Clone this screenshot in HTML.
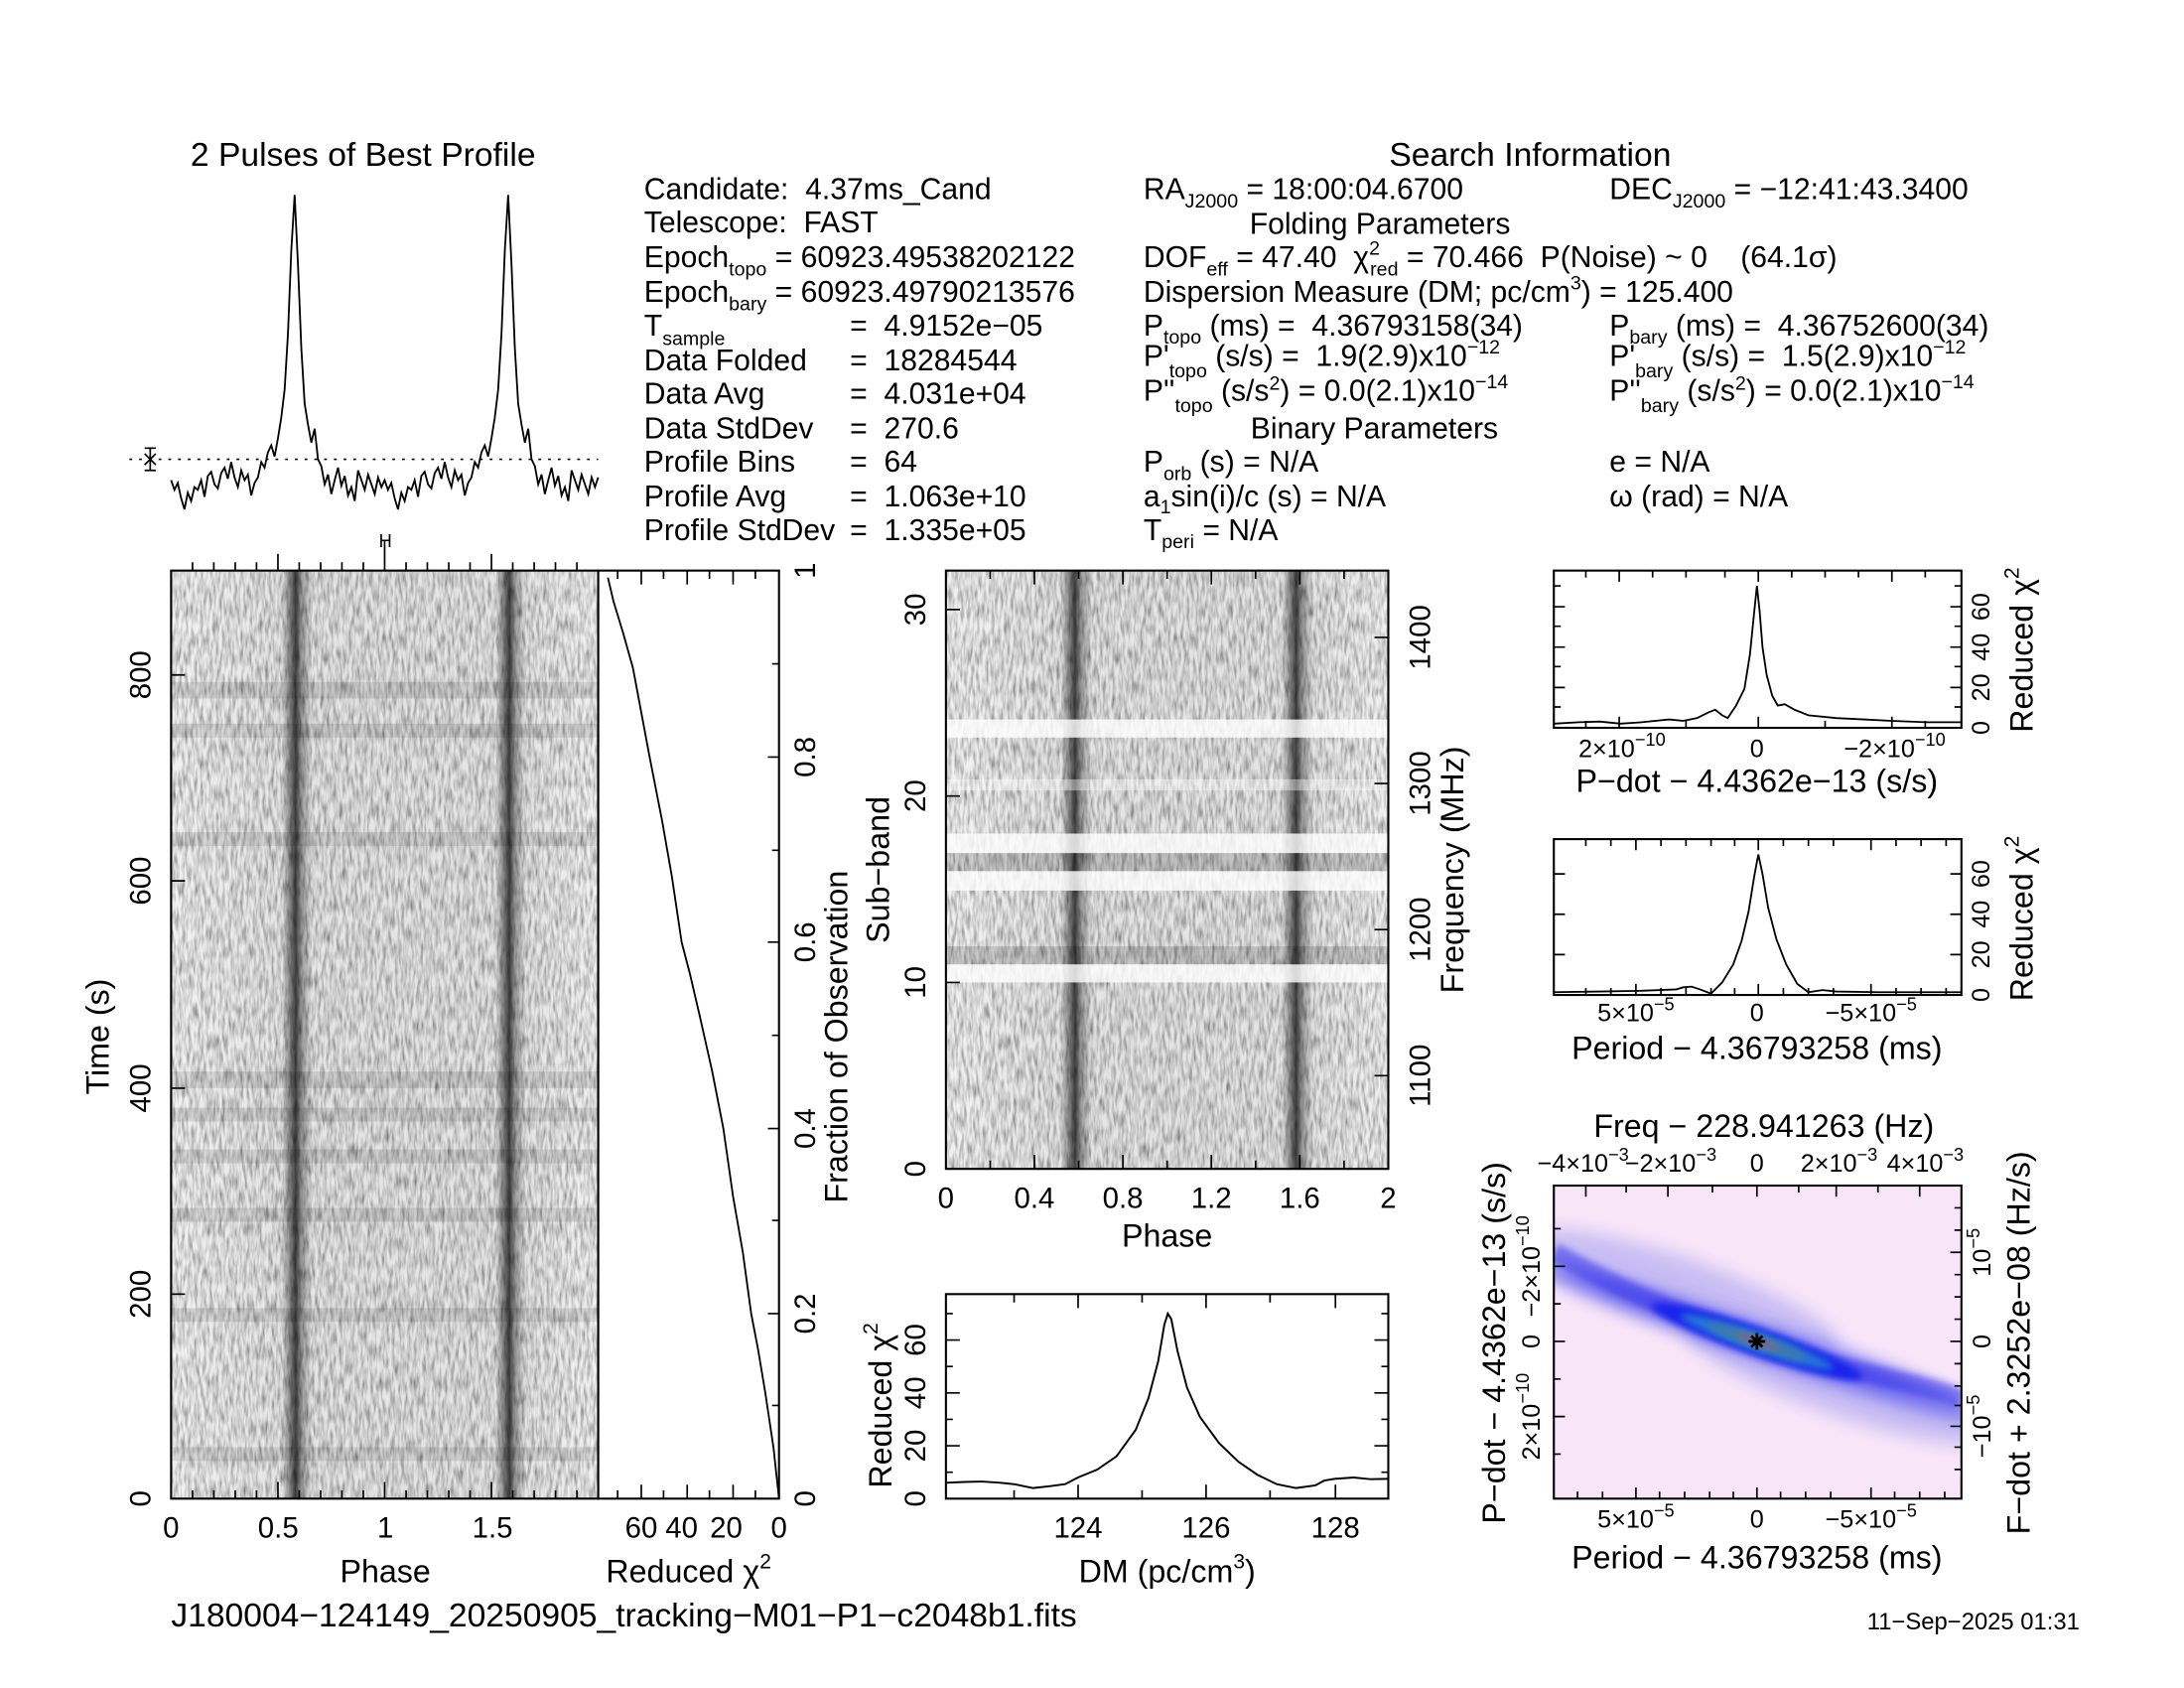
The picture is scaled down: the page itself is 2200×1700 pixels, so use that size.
<!DOCTYPE html>
<html><head><meta charset="utf-8"><style>
html,body{margin:0;padding:0;background:#fff;}
svg{display:block;}
text{font-family:"Liberation Sans",sans-serif;fill:#000;white-space:pre;}
</style></head><body>
<svg width="2200" height="1700" viewBox="0 0 1570 1213" xmlns="http://www.w3.org/2000/svg" xml:space="preserve">
<defs>
<filter id="nz" filterUnits="objectBoundingBox" x="0" y="0" width="1" height="1">
<feTurbulence type="fractalNoise" baseFrequency="0.45 0.09" numOctaves="2" seed="7"/>
<feColorMatrix type="matrix" values="1.3 0 0 0 0.12  1.3 0 0 0 0.12  1.3 0 0 0 0.12  0 0 0 0 1"/>
</filter>
<linearGradient id="bands" x1="0" x2="1" y1="0" y2="0">
<stop offset="0" stop-color="#000" stop-opacity="0.05"/>
<stop offset="0.26" stop-color="#000" stop-opacity="0.1"/>
<stop offset="0.28" stop-color="#000" stop-opacity="0.5"/>
<stop offset="0.292" stop-color="#000" stop-opacity="0.75"/>
<stop offset="0.305" stop-color="#000" stop-opacity="0.4"/>
<stop offset="0.33" stop-color="#000" stop-opacity="0.1"/>
<stop offset="0.76" stop-color="#000" stop-opacity="0.1"/>
<stop offset="0.78" stop-color="#000" stop-opacity="0.5"/>
<stop offset="0.792" stop-color="#000" stop-opacity="0.75"/>
<stop offset="0.805" stop-color="#000" stop-opacity="0.4"/>
<stop offset="0.83" stop-color="#000" stop-opacity="0.1"/>
<stop offset="1" stop-color="#000" stop-opacity="0.05"/>
</linearGradient>
<filter id="bl" x="-50%" y="-50%" width="200%" height="200%"><feGaussianBlur stdDeviation="6"/></filter>
<filter id="bl2" x="-50%" y="-50%" width="200%" height="200%"><feGaussianBlur stdDeviation="2.5"/></filter>
<clipPath id="c2d"><rect x="1117" y="852" width="293" height="225"/></clipPath>
</defs>

<!-- ===== Profile ===== -->
<text x="261" y="119" font-size="24" text-anchor="middle">2 Pulses of Best Profile</text>
<line x1="93" y1="330" x2="430" y2="330" stroke="#000" stroke-width="1.2" stroke-dasharray="2,5"/>
<path d="M108,322V338M104,322H112M104,338H112M104,326L112,334M104,334L112,326" stroke="#000" stroke-width="1.2" fill="none"/>
<polyline fill="none" stroke="#000" stroke-width="1.3" points="123,345 125.4,352 127.8,347 130.2,358 132.6,366 135,354 137.4,360 139.8,350 142.2,352 144.6,345 147,357 149.4,342 151.8,339 154.2,348 156.6,351 159,340 161.4,336 163.8,344 166.2,332 168.6,343 171,350 173.4,338 175.8,345 178.2,341 180.6,356 183,347 185.4,343 187.8,332 190.2,336 192.6,325 195,320 197.4,328 199.8,315 202.2,300 204.6,280 207,240 209.4,180 211.8,140 214.2,190 216.6,250 219,290 221.4,305 223.8,318 226.2,308 228.6,330 231,335 233.4,348 235.8,341 238.2,355 240.6,345 243,336 245.4,349 247.8,342 250.2,356 252.6,350 255,360 257.4,338 259.8,345 262.2,352 264.6,341 267,348 269.4,355 271.8,343 274.2,350 276.5,345 278.9,352 281.3,347 283.7,358 286.1,366 288.5,354 290.9,360 293.3,350 295.7,352 298.1,345 300.5,357 302.9,342 305.3,339 307.7,348 310.1,351 312.5,340 314.9,336 317.3,344 319.7,332 322.1,343 324.5,350 326.9,338 329.3,345 331.7,341 334.1,356 336.5,347 338.9,343 341.3,332 343.7,336 346.1,325 348.5,320 350.9,328 353.3,315 355.7,300 358.1,280 360.5,240 362.9,180 365.3,140 367.7,190 370.1,250 372.5,290 374.9,305 377.3,318 379.7,308 382.1,330 384.5,335 386.9,348 389.3,341 391.7,355 394.1,345 396.5,336 398.9,349 401.3,342 403.7,356 406.1,350 408.5,360 410.9,338 413.3,345 415.7,352 418.1,341 420.5,348 422.9,355 425.3,343 427.7,350 430,343"/>
<text x="277" y="393" font-size="13" text-anchor="middle">H</text>

<!-- ===== Info text ===== -->
<g font-size="21.5">
<text x="463" y="143">Candidate:  4.37ms_Cand</text>
<text x="463" y="167">Telescope:  FAST</text>
<text x="463" y="192">Epoch<tspan font-size="14" dy="6">topo</tspan><tspan dy="-6"> = 60923.49538202122</tspan></text>
<text x="463" y="217">Epoch<tspan font-size="14" dy="6">bary</tspan><tspan dy="-6"> = 60923.49790213576</tspan></text>
<text x="463" y="241">T<tspan font-size="14" dy="7">sample</tspan></text>
<text x="611" y="241">=  4.9152e−05</text>
<text x="463" y="266">Data Folded</text><text x="611" y="266">=  18284544</text>
<text x="463" y="290">Data Avg</text><text x="611" y="290">=  4.031e+04</text>
<text x="463" y="315">Data StdDev</text><text x="611" y="315">=  270.6</text>
<text x="463" y="339">Profile Bins</text><text x="611" y="339">=  64</text>
<text x="463" y="364">Profile Avg</text><text x="611" y="364">=  1.063e+10</text>
<text x="463" y="388">Profile StdDev</text><text x="611" y="388">=  1.335e+05</text>

<text x="1100" y="119" text-anchor="middle" font-size="24">Search Information</text>
<text x="822" y="143">RA<tspan font-size="14" dy="6">J2000</tspan><tspan dy="-6"> = 18:00:04.6700</tspan></text>
<text x="1157" y="143">DEC<tspan font-size="14" dy="6">J2000</tspan><tspan dy="-6"> = −12:41:43.3400</tspan></text>
<text x="992" y="168" text-anchor="middle">Folding Parameters</text>
<text x="822" y="192">DOF<tspan font-size="14" dy="6">eff</tspan><tspan dy="-6"> = 47.40  χ</tspan><tspan font-size="14" dy="-9">2</tspan><tspan font-size="14" dx="-7" dy="15">red</tspan><tspan dy="-6"> = 70.466  P(Noise) ~ 0    (64.1σ)</tspan></text>
<text x="822" y="217">Dispersion Measure (DM; pc/cm<tspan font-size="14" dy="-9">3</tspan><tspan dy="9">) = 125.400</tspan></text>
<text x="822" y="241">P<tspan font-size="14" dy="6">topo</tspan><tspan dy="-6"> (ms) =  4.36793158(34)</tspan></text>
<text x="1157" y="241">P<tspan font-size="14" dy="6">bary</tspan><tspan dy="-6"> (ms) =  4.36752600(34)</tspan></text>
<text x="822" y="263">P'<tspan font-size="14" dy="8">topo</tspan><tspan dy="-8"> (s/s) =  1.9(2.9)x10</tspan><tspan font-size="14" dy="-9">−12</tspan></text>
<text x="1157" y="263">P'<tspan font-size="14" dy="8">bary</tspan><tspan dy="-8"> (s/s) =  1.5(2.9)x10</tspan><tspan font-size="14" dy="-9">−12</tspan></text>
<text x="822" y="288">P''<tspan font-size="14" dy="8">topo</tspan><tspan dy="-8"> (s/s</tspan><tspan font-size="14" dy="-8">2</tspan><tspan dy="8">) = 0.0(2.1)x10</tspan><tspan font-size="14" dy="-9">−14</tspan></text>
<text x="1157" y="288">P''<tspan font-size="14" dy="8">bary</tspan><tspan dy="-8"> (s/s</tspan><tspan font-size="14" dy="-8">2</tspan><tspan dy="8">) = 0.0(2.1)x10</tspan><tspan font-size="14" dy="-9">−14</tspan></text>
<text x="988" y="315" text-anchor="middle">Binary Parameters</text>
<text x="822" y="339">P<tspan font-size="14" dy="6">orb</tspan><tspan dy="-6"> (s) = N/A</tspan></text>
<text x="1157" y="339">e = N/A</text>
<text x="822" y="364">a<tspan font-size="14" dy="5">1</tspan><tspan dy="-5">sin(i)/c (s) = N/A</tspan></text>
<text x="1157" y="364">ω (rad) = N/A</text>
<text x="822" y="388">T<tspan font-size="14" dy="6">peri</tspan><tspan dy="-6"> = N/A</tspan></text>
</g>

<!-- ===== Main time-phase greyscale ===== -->
<rect x="123" y="410" width="307" height="667" fill="#999" filter="url(#nz)"/>
<rect x="123" y="410" width="307" height="667" fill="url(#bands)"/>
<g fill="#000" opacity="0.1">
<rect x="123" y="490" width="307" height="12"/><rect x="123" y="520" width="307" height="10"/><rect x="123" y="598" width="307" height="10"/>
<rect x="123" y="770" width="307" height="12"/><rect x="123" y="796" width="307" height="10"/><rect x="123" y="826" width="307" height="10"/>
<rect x="123" y="868" width="307" height="10"/><rect x="123" y="940" width="307" height="10"/><rect x="123" y="1040" width="307" height="10"/>
</g>
<rect x="123" y="410" width="307" height="667" fill="none" stroke="#000" stroke-width="1.5"/>
<path stroke="#000" stroke-width="1.2" fill="none" d="M138.4,410v-6M153.7,410v-6M169.1,410v-6M184.4,410v-6M199.8,410v-12M215.1,410v-6M230.5,410v-6M245.8,410v-6M261.2,410v-6M276.5,410v-22M291.9,410v-6M307.2,410v-6M322.6,410v-6M337.9,410v-6M353.3,410v-12M368.6,410v-6M384,410v-6M399.3,410v-6M414.7,410v-6
M138.4,1077v-6M153.7,1077v-6M169.1,1077v-6M184.4,1077v-6M199.8,1077v-12M215.1,1077v-6M230.5,1077v-6M245.8,1077v-6M261.2,1077v-6M276.5,1077v-12M291.9,1077v-6M307.2,1077v-6M322.6,1077v-6M337.9,1077v-6M353.3,1077v-12M368.6,1077v-6M384,1077v-6M399.3,1077v-6M414.7,1077v-6
M123,930h10M123,782h10M123,633h10M123,485h10"/>
<g font-size="21" text-anchor="middle">
<text x="123" y="1105">0</text><text x="200" y="1105">0.5</text><text x="277" y="1105">1</text><text x="354" y="1105">1.5</text>
<text x="277" y="1137" font-size="23">Phase</text>
</g>
<g font-size="21" text-anchor="middle">
<text transform="translate(108,1077) rotate(-90)">0</text>
<text transform="translate(108,930) rotate(-90)">200</text>
<text transform="translate(108,782) rotate(-90)">400</text>
<text transform="translate(108,633) rotate(-90)">600</text>
<text transform="translate(108,485) rotate(-90)">800</text>
<text transform="translate(78,745) rotate(-90)" font-size="23">Time (s)</text>
</g>

<!-- ===== chi vs fraction ===== -->
<rect x="430" y="410" width="130" height="667" fill="none" stroke="#000" stroke-width="1.5"/>
<polyline fill="none" stroke="#000" stroke-width="1.3" points="560,1077 556,1040 550,1000 545,970 540,944 534,900 527,860 520,811 512,770 503,730 496,700 490,677 483,630 476,590 467,544 461,512 455,480 448,455 441,432 437,415"/>
<path stroke="#000" stroke-width="1.2" fill="none" d="M461,410v10M494,410v10M527,410v10M444,410v6M477,410v6M510,410v6M543,410v6M461,1077v-10M494,1077v-10M527,1077v-10M444,1077v-6M477,1077v-6M510,1077v-6M543,1077v-6
M560,944h-8M560,811h-8M560,677h-8M560,544h-8M560,1010h-5M560,877h-5M560,744h-5M560,611h-5M560,477h-5"/>
<g font-size="21" text-anchor="middle">
<text x="461" y="1105">60</text><text x="490" y="1105">40</text><text x="522" y="1105">20</text><text x="560" y="1105">0</text>
<text x="495" y="1137" font-size="23">Reduced χ<tspan font-size="15" dy="-10">2</tspan></text>
<text transform="translate(586,1077) rotate(-90)">0</text>
<text transform="translate(586,944) rotate(-90)">0.2</text>
<text transform="translate(586,811) rotate(-90)">0.4</text>
<text transform="translate(586,677) rotate(-90)">0.6</text>
<text transform="translate(586,544) rotate(-90)">0.8</text>
<text transform="translate(586,410) rotate(-90)">1</text>
<text transform="translate(609,745) rotate(-90)" font-size="23">Fraction of Observation</text>
</g>

<!-- ===== subband plot ===== -->
<rect x="680" y="410" width="318" height="430" fill="#999" filter="url(#nz)"/>
<rect x="680" y="410" width="318" height="430" fill="url(#bands)"/>
<g fill="#fff" opacity="0.8">
<rect x="680" y="517" width="318" height="13"/><rect x="680" y="599" width="318" height="14"/><rect x="680" y="626" width="318" height="14"/><rect x="680" y="693" width="318" height="13"/><rect x="680" y="560" width="318" height="8" opacity="0.5"/>
</g>
<g fill="#000" opacity="0.15"><rect x="680" y="680" width="318" height="13"/><rect x="680" y="613" width="318" height="13"/></g>
<rect x="680" y="410" width="318" height="430" fill="none" stroke="#000" stroke-width="1.5"/>
<path stroke="#000" stroke-width="1.2" fill="none" d="M711.8,840v-6M743.6,840v-10M775.4,840v-6M807.2,840v-10M839,840v-6M870.8,840v-10M902.6,840v-6M934.4,840v-10M966.2,840v-6
M711.8,410v6M743.6,410v10M775.4,410v6M807.2,410v10M839,410v6M870.8,410v10M902.6,410v6M934.4,410v10M966.2,410v6
M680,706h10M680,572h10M680,438h10M998,773h-10M998,668h-10M998,563h-10M998,458h-10"/>
<g font-size="21" text-anchor="middle">
<text x="680" y="868">0</text><text x="743.6" y="868">0.4</text><text x="807.2" y="868">0.8</text><text x="870.8" y="868">1.2</text><text x="934.4" y="868">1.6</text><text x="998" y="868">2</text>
<text x="839" y="896" font-size="23">Phase</text>
<text transform="translate(665,840) rotate(-90)">0</text>
<text transform="translate(665,706) rotate(-90)">10</text>
<text transform="translate(665,572) rotate(-90)">20</text>
<text transform="translate(665,438) rotate(-90)">30</text>
<text transform="translate(639,625) rotate(-90)" font-size="23">Sub−band</text>
<text transform="translate(1028,773) rotate(-90)">1100</text>
<text transform="translate(1028,668) rotate(-90)">1200</text>
<text transform="translate(1028,563) rotate(-90)">1300</text>
<text transform="translate(1028,458) rotate(-90)">1400</text>
<text transform="translate(1052,625) rotate(-90)" font-size="23">Frequency (MHz)</text>
</g>

<!-- ===== DM plot ===== -->
<rect x="680" y="930" width="318" height="147" fill="none" stroke="#000" stroke-width="1.5"/>
<polyline fill="none" stroke="#000" stroke-width="1.4" points="680,1065.6 693,1065 705.8,1064.7 718,1065.5 728.9,1066.6 742.7,1069.4 755,1068 765.7,1066.6 774.9,1061.8 788.8,1056.1 802.6,1046.6 816.4,1027.6 825.6,1004.8 832.6,978.2 837,952 839.5,944 842,948 846.4,970.6 853.3,997.2 862.5,1018.1 876.3,1037.1 890.2,1050.4 904,1059.9 917.8,1066.6 931.7,1069.4 945.5,1067.5 952,1064 959.3,1062.8 973.1,1061.8 985,1063 998,1062.8"/>
<path stroke="#000" stroke-width="1.2" fill="none" d="M729,1077v-6M775,1077v-10M821,1077v-6M867,1077v-10M913,1077v-6M960,1077v-10M729,930v6M775,930v10M821,930v6M867,930v10M913,930v6M960,930v10
M680,1058h5M680,1039h10M680,1020h5M680,1001h10M680,982h5M680,963h10M680,944h5M998,1058h-5M998,1039h-10M998,1020h-5M998,1001h-10M998,982h-5M998,963h-10M998,944h-5"/>
<g font-size="21" text-anchor="middle">
<text x="775" y="1105">124</text><text x="867" y="1105">126</text><text x="960" y="1105">128</text>
<text x="839" y="1137" font-size="23">DM (pc/cm<tspan font-size="15" dy="-10">3</tspan><tspan dy="10">)</tspan></text>
<text transform="translate(665,1077) rotate(-90)">0</text>
<text transform="translate(665,1039) rotate(-90)">20</text>
<text transform="translate(665,1001) rotate(-90)">40</text>
<text transform="translate(665,963) rotate(-90)">60</text>
<text transform="translate(641,1010) rotate(-90)" font-size="23">Reduced χ<tspan font-size="15" dy="-10">2</tspan></text>
</g>

<!-- ===== P-dot plot ===== -->
<rect x="1117" y="410" width="293" height="113" fill="none" stroke="#000" stroke-width="1.5"/>
<polyline fill="none" stroke="#000" stroke-width="1.3" points="1117,520 1135,519 1150,518.5 1165,520 1180,519 1200,517 1210,518 1220,516 1228,512 1233,510 1238,514 1242,516 1248,507 1254,495 1258,470 1261,440 1263,421 1265,440 1267,465 1270,485 1274,500 1278,507 1283,506 1290,510 1300,514 1320,516 1340,517 1360,518 1385,519 1410,519"/>
<path stroke="#000" stroke-width="1.2" fill="none" d="M1140,410v5M1164,410v8M1188,410v5M1212,410v5M1240,410v5M1264,410v8M1288,410v5M1312,410v5M1336,410v5M1360,410v8M1384,410v5
M1164,523v-8M1264,523v-8M1360,523v-8M1140,523v-5M1212,523v-5M1312,523v-5M1384,523v-5
M1117,494h8M1117,465h8M1117,436h8M1410,494h-8M1410,465h-8M1410,436h-8M1410,508h-5M1410,479h-5M1410,450h-5M1410,421h-5M1117,508h5M1117,479h5M1117,450h5M1117,421h5"/>
<g font-size="18" text-anchor="middle">
<text x="1166" y="544">2×10<tspan font-size="13" dy="-8">−10</tspan></text>
<text x="1263" y="544">0</text>
<text x="1362" y="544">−2×10<tspan font-size="13" dy="-8">−10</tspan></text>
<text x="1263" y="569" font-size="23">P−dot − 4.4362e−13 (s/s)</text>
<text transform="translate(1430,523) rotate(-90)">0</text>
<text transform="translate(1430,494) rotate(-90)">20</text>
<text transform="translate(1430,465) rotate(-90)">40</text>
<text transform="translate(1430,436) rotate(-90)">60</text>
<text transform="translate(1461,467) rotate(-90)" font-size="23">Reduced χ<tspan font-size="15" dy="-10">2</tspan></text>
</g>

<!-- ===== Period plot ===== -->
<rect x="1117" y="603" width="293" height="112" fill="none" stroke="#000" stroke-width="1.5"/>
<polyline fill="none" stroke="#000" stroke-width="1.3" points="1117,713 1150,712.5 1180,712 1205,711 1210,709.5 1216,709 1222,711 1230,714 1238,706 1246,693 1252,676 1257,655 1261,630 1264,614 1267,628 1271,652 1277,675 1284,693 1292,707 1300,713 1310,711.5 1320,712.5 1350,713 1380,713 1410,713"/>
<path stroke="#000" stroke-width="1.2" fill="none" d="M1176,603v8M1264,603v8M1345,603v8M1140,603v5M1158,603v5M1194,603v5M1212,603v5M1230,603v5M1247,603v5M1282,603v5M1300,603v5M1318,603v5M1363,603v5M1381,603v5M1399,603v5
M1176,715v-8M1264,715v-8M1345,715v-8M1140,715v-5M1158,715v-5M1194,715v-5M1212,715v-5M1230,715v-5M1247,715v-5M1282,715v-5M1300,715v-5M1318,715v-5M1363,715v-5M1381,715v-5M1399,715v-5
M1117,686h8M1117,657h8M1117,628h8M1410,686h-8M1410,657h-8M1410,628h-8"/>
<g font-size="18" text-anchor="middle">
<text x="1176" y="734">5×10<tspan font-size="13" dy="-8">−5</tspan></text>
<text x="1263" y="734">0</text>
<text x="1345" y="734">−5×10<tspan font-size="13" dy="-8">−5</tspan></text>
<text x="1263" y="761" font-size="23">Period − 4.36793258 (ms)</text>
<text transform="translate(1430,715) rotate(-90)">0</text>
<text transform="translate(1430,686) rotate(-90)">20</text>
<text transform="translate(1430,657) rotate(-90)">40</text>
<text transform="translate(1430,628) rotate(-90)">60</text>
<text transform="translate(1461,660) rotate(-90)" font-size="23">Reduced χ<tspan font-size="15" dy="-10">2</tspan></text>
</g>

<!-- ===== 2D P-Pdot ===== -->
<g clip-path="url(#c2d)">
<rect x="1117" y="852" width="293" height="225" fill="#f8e6f8"/>
<g transform="rotate(19 1263 964)">
<ellipse cx="1200" cy="948" rx="120" ry="24" fill="#9a96f0" opacity="0.5" filter="url(#bl)"/>
<ellipse cx="1330" cy="972" rx="120" ry="24" fill="#9a96f0" opacity="0.5" filter="url(#bl)"/>
<ellipse cx="1263" cy="964" rx="170" ry="12" fill="#4a4aee" opacity="0.7" filter="url(#bl)"/>
<ellipse cx="1263" cy="964" rx="80" ry="10" fill="#1020f0" filter="url(#bl2)"/>
<ellipse cx="1263" cy="964" rx="58" ry="6" fill="#20c8c8" filter="url(#bl2)"/>
<ellipse cx="1263" cy="964" rx="38" ry="4" fill="#60d060" filter="url(#bl2)"/>
<ellipse cx="1263" cy="964" rx="16" ry="2.5" fill="#f0a020" filter="url(#bl2)"/>
</g>
<path d="M1117,900 C1170,930 1200,940 1263,964 C1320,985 1370,990 1410,1005" stroke="#2828e8" stroke-width="14" fill="none" opacity="0.5" filter="url(#bl2)"/>
</g>
<path d="M1257,964h12M1263,958v12M1259,960l8,8M1259,968l8,-8" stroke="#000" stroke-width="2"/>
<rect x="1117" y="852" width="293" height="225" fill="none" stroke="#000" stroke-width="1.5"/>
<path stroke="#000" stroke-width="1.2" fill="none" d="M1140,852v8M1169,852v5M1199,852v8M1231,852v5M1263,852v8M1293,852v5M1320,852v8M1350,852v5M1380,852v8
M1176,1077v-8M1263,1077v-8M1345,1077v-8M1134,1077v-5M1152,1077v-5M1193,1077v-5M1211,1077v-5M1229,1077v-5M1246,1077v-5M1280,1077v-5M1298,1077v-5M1316,1077v-5M1362,1077v-5M1380,1077v-5M1398,1077v-5
M1117,910h8M1117,964h8M1117,1018h8M1117,883h5M1117,937h5M1117,991h5M1117,1045h5
M1410,900h-8M1410,964h-8M1410,1025h-8M1410,868h-5M1410,884h-5M1410,916h-5M1410,932h-5M1410,948h-5M1410,980h-5M1410,996h-5M1410,1010h-5M1410,1040h-5M1410,1056h-5"/>
<g font-size="18" text-anchor="middle">
<text x="1268" y="817" font-size="23">Freq − 228.941263 (Hz)</text>
<text x="1138" y="842">−4×10<tspan font-size="13" dy="-8">−3</tspan></text>
<text x="1201" y="842">−2×10<tspan font-size="13" dy="-8">−3</tspan></text>
<text x="1263" y="842">0</text>
<text x="1322" y="842">2×10<tspan font-size="13" dy="-8">−3</tspan></text>
<text x="1384" y="842">4×10<tspan font-size="13" dy="-8">−3</tspan></text>
<text x="1176" y="1098">5×10<tspan font-size="13" dy="-8">−5</tspan></text>
<text x="1263" y="1098">0</text>
<text x="1345" y="1098">−5×10<tspan font-size="13" dy="-8">−5</tspan></text>
<text x="1263" y="1127" font-size="23">Period − 4.36793258 (ms)</text>
<text transform="translate(1107,910) rotate(-90)">−2×10<tspan font-size="13" dy="-8">−10</tspan></text>
<text transform="translate(1107,964) rotate(-90)">0</text>
<text transform="translate(1107,1018) rotate(-90)">2×10<tspan font-size="13" dy="-8">−10</tspan></text>
<text transform="translate(1082,965) rotate(-90)" font-size="23">P−dot − 4.4362e−13 (s/s)</text>
<text transform="translate(1431,900) rotate(-90)">10<tspan font-size="13" dy="-8">−5</tspan></text>
<text transform="translate(1431,964) rotate(-90)">0</text>
<text transform="translate(1431,1025) rotate(-90)">−10<tspan font-size="13" dy="-8">−5</tspan></text>
<text transform="translate(1459,965) rotate(-90)" font-size="23">F−dot + 2.3252e−08 (Hz/s)</text>
</g>

<!-- footer -->
<text x="123" y="1169" font-size="24">J180004−124149_20250905_tracking−M01−P1−c2048b1.fits</text>
<text x="1495" y="1171" font-size="17" text-anchor="end" fill="#333">11−Sep−2025 01:31</text>
</svg>
</body></html>
